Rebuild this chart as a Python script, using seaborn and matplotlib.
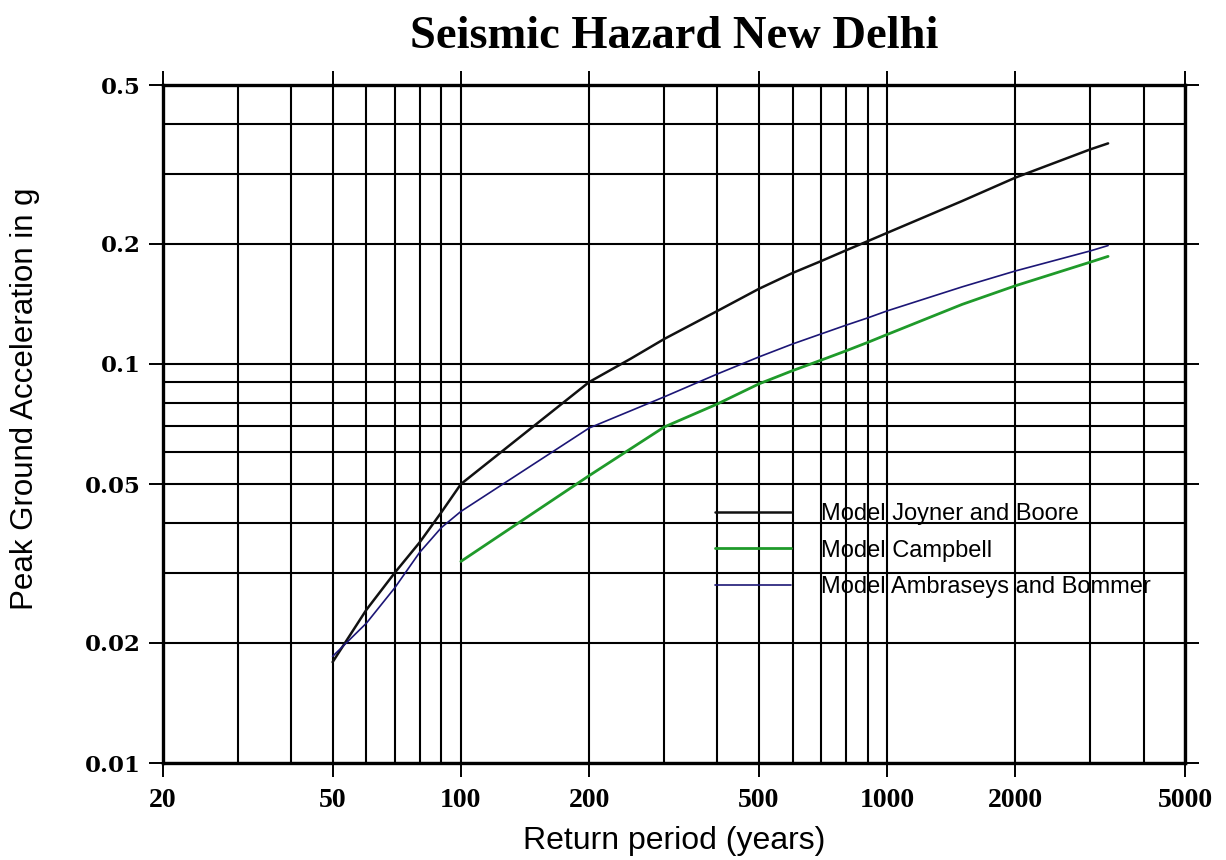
import matplotlib
matplotlib.use("Agg")
import matplotlib.pyplot as plt
import seaborn as sns
from matplotlib.ticker import FixedLocator, NullFormatter

# Return periods (years) and PGA (g)
jb_years = [50, 60, 70, 80, 90, 100, 200, 250, 300, 400, 500, 600, 700, 800, 900, 1000, 1500, 2000, 3000, 3300]
jb_pga = [0.0179, 0.0242, 0.030, 0.0357, 0.0425, 0.050, 0.0901, 0.103, 0.1155, 0.1358, 0.1542, 0.169, 0.181,
          0.1925, 0.203, 0.213, 0.256, 0.293, 0.345, 0.357]

cb_years = [100, 200, 300, 400, 500, 600, 700, 800, 900, 1000, 1500, 2000, 3000, 3300]
cb_pga = [0.032, 0.0525, 0.0695, 0.0794, 0.0891, 0.0962, 0.1022, 0.1078, 0.1132, 0.1185, 0.141, 0.157, 0.180, 0.186]

ab_years = [50, 60, 70, 80, 90, 100, 200, 300, 400, 500, 600, 700, 800, 900, 1000, 1500, 2000, 3000, 3300]
ab_pga = [0.0185, 0.0224, 0.0275, 0.0337, 0.0389, 0.0427, 0.0691, 0.0827, 0.0944, 0.1041, 0.1122, 0.1189,
          0.1250, 0.1304, 0.1358, 0.156, 0.171, 0.192, 0.198]

series_labels = ["Model Joyner and Boore", "Model Campbell", "Model Ambraseys and Bommer"]

x_major = [20, 50, 100, 200, 500, 1000, 2000, 5000]
x_major_labels = ["20", "50", "100", "200", "500", "1000", "2000", "5000"]
x_minor = [30, 40, 60, 70, 80, 90, 300, 400, 600, 700, 800, 900, 3000, 4000]
y_major = [0.01, 0.02, 0.05, 0.1, 0.2, 0.5]
y_major_labels = ["0.01", "0.02", "0.05", "0.1", "0.2", "0.5"]
y_minor = [0.03, 0.04, 0.06, 0.07, 0.08, 0.09, 0.3, 0.4]

sns.set_style("white")
plt.rcParams['font.family'] = ['Liberation Sans', 'DejaVu Sans']
plt.rcParams.update({"text.color": "black", "axes.labelcolor": "black",
                     "xtick.color": "black", "ytick.color": "black"})

fig = plt.figure(figsize=(12.26, 8.6), dpi=100)
ax = fig.add_axes([163 / 1226, 1 - 763 / 860, 1022 / 1226, 678 / 860])

sns.lineplot(x=jb_years, y=jb_pga, color="#111111", linewidth=1.8, label=series_labels[0], ax=ax, zorder=5)
sns.lineplot(x=cb_years, y=cb_pga, color="#1f9a2a", linewidth=2.0, label=series_labels[1], ax=ax, zorder=5)
sns.lineplot(x=ab_years, y=ab_pga, color="#1c1676", linewidth=1.2, label=series_labels[2], ax=ax, zorder=5)

ax.set_xscale("log")
ax.set_yscale("log")
ax.set_xlim(20, 5000)
ax.set_ylim(0.01, 0.5)

ax.xaxis.set_major_locator(FixedLocator(x_major))
ax.xaxis.set_minor_locator(FixedLocator(x_minor))
ax.yaxis.set_major_locator(FixedLocator(y_major))
ax.yaxis.set_minor_locator(FixedLocator(y_minor))
ax.set_xticklabels(x_major_labels)
ax.set_yticklabels(y_major_labels)
ax.xaxis.set_minor_formatter(NullFormatter())
ax.yaxis.set_minor_formatter(NullFormatter())

ax.grid(True, which="both", color="black", linewidth=1.5)
ax.set_axisbelow(True)

ax.tick_params(which="major", direction="out", length=10, width=1.4, color="black",
               top=True, right=True, bottom=True, left=True)
ax.tick_params(which="minor", length=0)
ax.tick_params(axis="x", pad=8)
ax.tick_params(axis="y", pad=6)
for lab in ax.get_xticklabels():
    lab.set_fontfamily("Liberation Serif")
    lab.set_fontweight("bold")
    lab.set_fontsize(20)
for lab in ax.get_yticklabels():
    lab.set_fontfamily("DejaVu Serif")
    lab.set_fontweight("bold")
    lab.set_fontsize(16.5)

for sp in ax.spines.values():
    sp.set_color("black")
    sp.set_linewidth(2.4)

ax.set_xlabel("Return period (years)", fontsize=23, labelpad=9)
ax.set_ylabel("Peak Ground Acceleration in g", fontsize=22.5)
ax.yaxis.set_label_coords(-123 / 1022, (763 - 399) / 678)

fig.text(674 / 1226, 1 - 48 / 860, "Seismic Hazard New Delhi", ha="center", va="baseline",
         fontfamily="Liberation Serif", fontweight="bold", fontsize=33.5)

ax.legend(loc="upper left", bbox_to_anchor=(715 / 1226, 1 - 503 / 860), bbox_transform=fig.transFigure,
          frameon=False, fontsize=17, handlelength=3.2, handletextpad=1.3, labelspacing=0.62,
          borderpad=0, borderaxespad=0)

fig.savefig("out.png", dpi=100)
